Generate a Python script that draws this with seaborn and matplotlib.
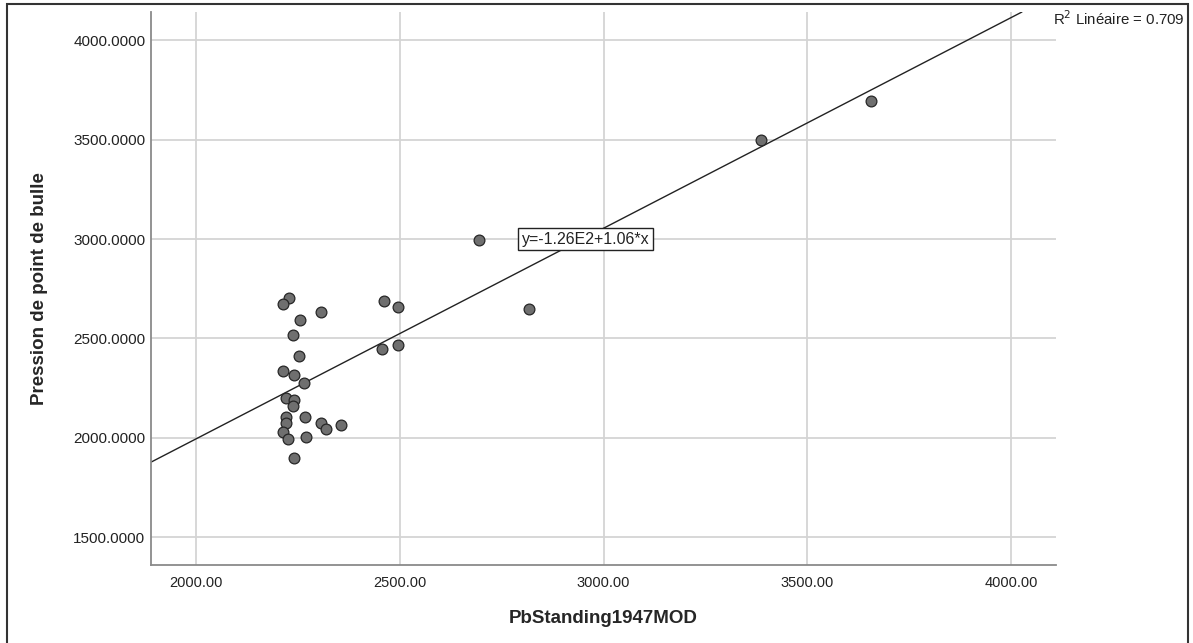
import numpy as np
import pandas as pd
import seaborn as sns
import matplotlib.pyplot as plt
from matplotlib.patches import Rectangle

# values
pb_standing = [2229, 2215, 2306, 2255, 2239, 2252, 2215, 2241, 2266, 2220,
               2241, 2239, 2220, 2220, 2268, 2308, 2319, 2357, 2215, 2227,
               2270, 2241, 2461, 2496, 2457, 2496, 2695, 2818, 3386, 3657]
pression = [2701, 2674, 2631, 2594, 2515, 2411, 2334, 2314, 2275, 2201,
            2191, 2161, 2106, 2076, 2106, 2074, 2045, 2062, 2029, 1995,
            2005, 1898, 2688, 2659, 2445, 2468, 2993, 2646, 3497, 3696]
intercept = -126.0
slope = 1.06
r2 = 0.709
x_ticks = [2000, 2500, 3000, 3500, 4000]
y_ticks = [1500, 2000, 2500, 3000, 3500, 4000]

df = pd.DataFrame({"PbStanding1947MOD": pb_standing,
                   "Pression de point de bulle": pression})

sns.set_style("white")
plt.rcParams["font.family"] = ["Liberation Sans", "DejaVu Sans"]

fig = plt.figure(figsize=(11.93, 6.43), dpi=100)
ax = fig.add_axes([151 / 1193, 1 - 565 / 643, (1056 - 151) / 1193, (565 - 12) / 643])

ax.set_xlim(1890, 4110)
ax.set_ylim(1360, 4142)
ax.set_xticks(x_ticks)
ax.set_yticks(y_ticks)
ax.set_xticklabels([f"{v:.2f}" for v in x_ticks], fontsize=10.5)
ax.set_yticklabels([f"{v:.4f}" for v in y_ticks], fontsize=11)
ax.grid(True, color="#d4d4d4", lw=1.3)
ax.set_axisbelow(True)
ax.tick_params(length=0, colors="#222222")
ax.tick_params(axis="y", pad=4)
ax.tick_params(axis="x", pad=8)
for s in ["top", "right"]:
    ax.spines[s].set_visible(False)
for s in ["left", "bottom"]:
    ax.spines[s].set_color("#8a8a8a")
    ax.spines[s].set_linewidth(1.3)

# fit line
ax.axline((0, intercept), slope=slope, color="#222222", lw=1.0, zorder=2)

sns.scatterplot(data=df, x="PbStanding1947MOD", y="Pression de point de bulle",
                ax=ax, s=60, color="#6f6f6f", edgecolor="#262626",
                linewidth=0.9, zorder=3)

ax.set_xlabel("PbStanding1947MOD", fontsize=13.5, fontweight="bold", labelpad=14)
ax.set_ylabel("Pression de point de bulle", fontsize=13.5, fontweight="bold", labelpad=18)

ax.text(2956, 3000, "y=-1.26E2+1.06*x", fontsize=11.5, ha="center", va="center",
        color="#222222", zorder=4,
        bbox=dict(boxstyle="square,pad=0.25", fc="white", ec="#222222", lw=1.0))

fig.text(1053 / 1193, 1 - 19 / 643, f"R$^2$ Linéaire = {r2:.3f}", fontsize=10.8,
         ha="left", va="center", color="#222222")

fig.patches.append(Rectangle((7 / 1193, -0.01), (1188 - 7) / 1193, 1 - 4 / 643 + 0.01,
                             transform=fig.transFigure, fill=False,
                             ec="#333333", lw=1.5))

fig.savefig("out.png", dpi=100)
